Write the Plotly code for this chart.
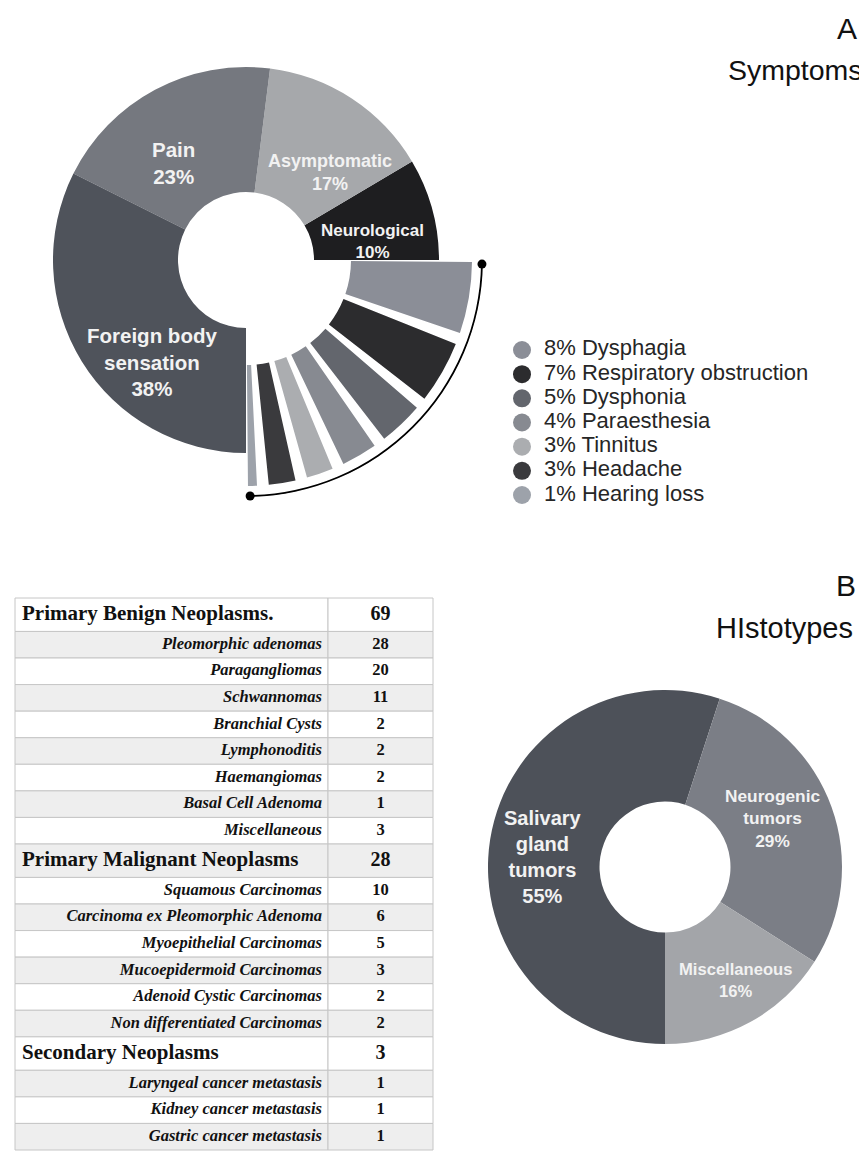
import plotly.graph_objects as go

W, H = 867, 1151          # browser window
OFF = 8                   # default page margin around the plot div
FW, FH = W - OFF, H - OFF # figure size so that it fits the window

# ---------------- Panel A data ----------------
main_labels = ["Neurological", "Asymptomatic", "Pain", "Foreign body sensation"]
main_values = [10, 17, 23, 38]
main_colors = ["#1e1e20", "#a6a8ab", "#75787f", "#4f535b"]

other_labels = ["Dysphagia", "Respiratory obstruction", "Dysphonia", "Paraesthesia",
                "Tinnitus", "Headache", "Hearing loss"]
other_values = [8, 7, 5, 4, 3, 3, 1]
other_colors = ["#8b8e97", "#2c2c2e", "#63666d", "#878a91", "#abadb0", "#3a3a3d", "#9da2aa"]

# ---------------- Panel B data ----------------
histo_labels = ["Salivary gland tumors", "Neurogenic tumors", "Miscellaneous"]
histo_values = [55, 29, 16]
histo_colors = ["#4d5159", "#7b7e86", "#a3a5a9"]

# ---------------- Table data ----------------
tbl_labels = ["Primary Benign Neoplasms.", "Pleomorphic adenomas", "Paragangliomas", "Schwannomas",
              "Branchial Cysts", "Lymphonoditis", "Haemangiomas", "Basal Cell Adenoma", "Miscellaneous",
              "Primary Malignant Neoplasms", "Squamous Carcinomas", "Carcinoma ex Pleomorphic Adenoma",
              "Myoepithelial Carcinomas", "Mucoepidermoid Carcinomas", "Adenoid Cystic Carcinomas",
              "Non differentiated Carcinomas", "Secondary Neoplasms", "Laryngeal cancer metastasis",
              "Kidney cancer metastasis", "Gastric cancer metastasis"]
tbl_counts = [69, 28, 20, 11, 2, 2, 2, 1, 3, 28, 10, 6, 5, 3, 2, 2, 3, 1, 1, 1]
tbl_group = [True, False, False, False, False, False, False, False, False,
             True, False, False, False, False, False, False, True, False, False, False]

SANS = "Liberation Sans, Arial, Helvetica, sans-serif"
SERIF = "Liberation Serif, Times New Roman, serif"


def px_x(x):
    return (x - OFF) / FW


def px_y(y):
    return 1 - (y - OFF) / FH


fig = go.Figure()

# ---------------- Panel A donut (polar) ----------------
CX, CY, RMAX = 246, 260, 237.5
R_IN, R_OUT = 68, 193
O_IN, O_OUT = 105, 226
R_ARC = 236

tot_main = sum(main_values)
main_w = [v / tot_main * 270 for v in main_values]
main_c = []
acc = 0
for w in main_w:
    main_c.append(acc + w / 2)
    acc += w

fig.add_trace(go.Barpolar(
    r=[R_OUT - R_IN] * len(main_values), base=R_IN, theta=main_c, width=main_w,
    marker=dict(color=main_colors, line=dict(width=0)), showlegend=False, hoverinfo="skip"))

gap = 3.0
start, end = -0.5, -89.5
tot_o = sum(other_values)
unit = ((start - end) - gap * (len(other_values) - 1)) / tot_o
o_w, o_c = [], []
pos = start
for v in other_values:
    w = v * unit
    o_w.append(w)
    o_c.append(pos - w / 2)
    pos -= w + gap

fig.add_trace(go.Barpolar(
    r=[O_OUT - O_IN] * len(other_values), base=O_IN, theta=o_c, width=o_w,
    marker=dict(color=other_colors, line=dict(width=0)), showlegend=False, hoverinfo="skip"))

# bracket arc around the small symptoms
arc_from, arc_to = -1.0, -89.0
fig.add_trace(go.Barpolar(
    r=[1.8], base=R_ARC - 0.9, theta=[(arc_from + arc_to) / 2], width=[arc_from - arc_to],
    marker=dict(color="#000000", line=dict(width=0)), showlegend=False, hoverinfo="skip"))
fig.add_trace(go.Scatterpolar(
    r=[R_ARC, R_ARC], theta=[arc_from, arc_to], mode="markers", cliponaxis=False,
    marker=dict(color="#000000", size=9), showlegend=False, hoverinfo="skip"))

fig.update_layout(polar=dict(
    domain=dict(x=[px_x(CX - RMAX), px_x(CX + RMAX)], y=[px_y(CY + RMAX), px_y(CY - RMAX)]),
    bgcolor="rgba(0,0,0,0)", barmode="overlay", hole=0,
    radialaxis=dict(range=[0, RMAX], visible=False, showgrid=False),
    angularaxis=dict(visible=False, showgrid=False, rotation=0, direction="counterclockwise",
                     thetaunit="degrees"),
))

# ---------------- Legend of the small symptoms ----------------
legend_text = [f"{v}% {n}" for v, n in zip(other_values, other_labels)]
fig.add_trace(go.Scatter(
    x=[0] * len(other_labels), y=other_labels, mode="markers",
    marker=dict(size=18, color=other_colors, line=dict(width=0)),
    showlegend=False, hoverinfo="skip", xaxis="x", yaxis="y"))
fig.add_trace(go.Scatter(
    x=[22] * len(other_labels), y=other_labels, mode="text", text=legend_text,
    textposition="middle right", textfont=dict(family=SANS, size=22, color="#262626"),
    showlegend=False, hoverinfo="skip", xaxis="x", yaxis="y", cliponaxis=False))
fig.update_layout(
    xaxis=dict(domain=[px_x(502), px_x(866)], range=[-20, 344], visible=False, fixedrange=True),
    yaxis=dict(domain=[px_y(507.1), px_y(337.9)], range=[6.5, -0.5], type="category",
               categoryorder="array", categoryarray=other_labels, visible=False, fixedrange=True),
)

# ---------------- Panel B donut ----------------
BX, BY, BR = 665, 867, 177
fig.add_trace(go.Pie(
    values=histo_values, labels=histo_labels, hole=0.37, rotation=180, direction="clockwise",
    sort=False, textinfo="none", marker=dict(colors=histo_colors, line=dict(width=0)),
    domain=dict(x=[px_x(BX - BR), px_x(BX + BR)], y=[px_y(BY + BR), px_y(BY - BR)]),
    showlegend=False, hoverinfo="skip"))

# ---------------- Table (drawn on its own axes) ----------------
COL1, COL2 = 313, 105
GROUP_H = 33.5
TOTAL_H = 553
n_group = sum(tbl_group)
SUB_H = (TOTAL_H - GROUP_H * n_group) / (len(tbl_group) - n_group)
row_h = [GROUP_H if g else SUB_H for g in tbl_group]
row_c = []
acc = 0
for h in row_h:
    row_c.append(acc + h / 2)
    acc += h
fills = ["#ffffff" if i % 2 == 0 else "#eeeeee" for i in range(len(tbl_labels))]
LINE = dict(color="#c6c6c6", width=1)

fig.add_trace(go.Bar(
    orientation="h", y=row_c, x=[COL1] * len(row_c), base=0, width=row_h,
    marker=dict(color=fills, line=LINE), showlegend=False, hoverinfo="skip",
    xaxis="x2", yaxis="y2"))
fig.add_trace(go.Bar(
    orientation="h", y=row_c, x=[COL2] * len(row_c), base=COL1, width=row_h,
    marker=dict(color=fills, line=LINE), showlegend=False, hoverinfo="skip",
    xaxis="x2", yaxis="y2"))

g_idx = [i for i, g in enumerate(tbl_group) if g]
s_idx = [i for i, g in enumerate(tbl_group) if not g]
fig.add_trace(go.Scatter(
    x=[7] * len(g_idx), y=[row_c[i] for i in g_idx], mode="text",
    text=[f"<b>{tbl_labels[i]}</b>" for i in g_idx], textposition="middle right",
    textfont=dict(family=SERIF, size=21, color="#111111"),
    showlegend=False, hoverinfo="skip", xaxis="x2", yaxis="y2", cliponaxis=False))
fig.add_trace(go.Scatter(
    x=[COL1 - 6] * len(s_idx), y=[row_c[i] for i in s_idx], mode="text",
    text=[f"<b><i>{tbl_labels[i]}</i></b>" for i in s_idx], textposition="middle left",
    textfont=dict(family=SERIF, size=16.5, color="#111111"),
    showlegend=False, hoverinfo="skip", xaxis="x2", yaxis="y2", cliponaxis=False))
fig.add_trace(go.Scatter(
    x=[COL1 + COL2 / 2] * len(row_c), y=row_c, mode="text",
    text=[f"<b>{c}</b>" for c in tbl_counts], textposition="middle center",
    textfont=dict(family=SERIF, size=[20 if g else 16.5 for g in tbl_group], color="#111111"),
    showlegend=False, hoverinfo="skip", xaxis="x2", yaxis="y2", cliponaxis=False))

fig.update_layout(
    barmode="overlay",
    xaxis2=dict(domain=[px_x(14), px_x(434)], range=[-1, COL1 + COL2 + 1], visible=False,
                fixedrange=True, anchor="y2"),
    yaxis2=dict(domain=[px_y(1151), px_y(597)], range=[TOTAL_H + 1, -1], visible=False,
                fixedrange=True, anchor="x2"),
)

# ---------------- Annotations ----------------
ann = []


def add_text(x, y, text, size, color="#ffffff", bold=True, xanchor="center", family=SANS):
    ann.append(dict(x=px_x(x), y=px_y(y), xref="paper", yref="paper",
                    text=(f"<b>{text}</b>" if bold else text),
                    showarrow=False, xanchor=xanchor, yanchor="middle",
                    font=dict(family=family, size=size, color=color)))


pct_main = dict(zip(main_labels, main_values))
add_text(173, 163, f"Pain<br>{pct_main['Pain']}%", 20.5, "#f2f2f2")
add_text(330, 172, f"Asymptomatic<br>{pct_main['Asymptomatic']}%", 18, "#f2f2f2")
add_text(372, 242, f"Neurological<br>{pct_main['Neurological']}%", 17, "#f2f2f2")
add_text(152, 362, f"Foreign body<br>sensation<br>{pct_main['Foreign body sensation']}%", 20.5, "#f2f2f2")

pct_h = dict(zip(histo_labels, histo_values))
add_text(543, 857, f"Salivary<br>gland<br>tumors<br>{pct_h['Salivary gland tumors']}%", 20, "#f2f2f2")
add_text(772, 818, f"Neurogenic<br>tumors<br>{pct_h['Neurogenic tumors']}%", 17.3, "#f2f2f2")
add_text(735, 980, f"Miscellaneous<br>{pct_h['Miscellaneous']}%", 16.6, "#f2f2f2")

add_text(859, 28, "A", 30, "#111111", bold=False, xanchor="right")
add_text(865, 70, "Symptoms", 28.5, "#111111", bold=False, xanchor="right")
add_text(858, 585, "B", 30, "#111111", bold=False, xanchor="right")
add_text(855, 628, "HIstotypes", 29, "#111111", bold=False, xanchor="right")

fig.update_layout(
    width=FW, height=FH, margin=dict(l=0, r=0, t=0, b=0),
    paper_bgcolor="#ffffff", plot_bgcolor="rgba(0,0,0,0)",
    showlegend=False, annotations=ann,
)

fig.write_html("out.html")
